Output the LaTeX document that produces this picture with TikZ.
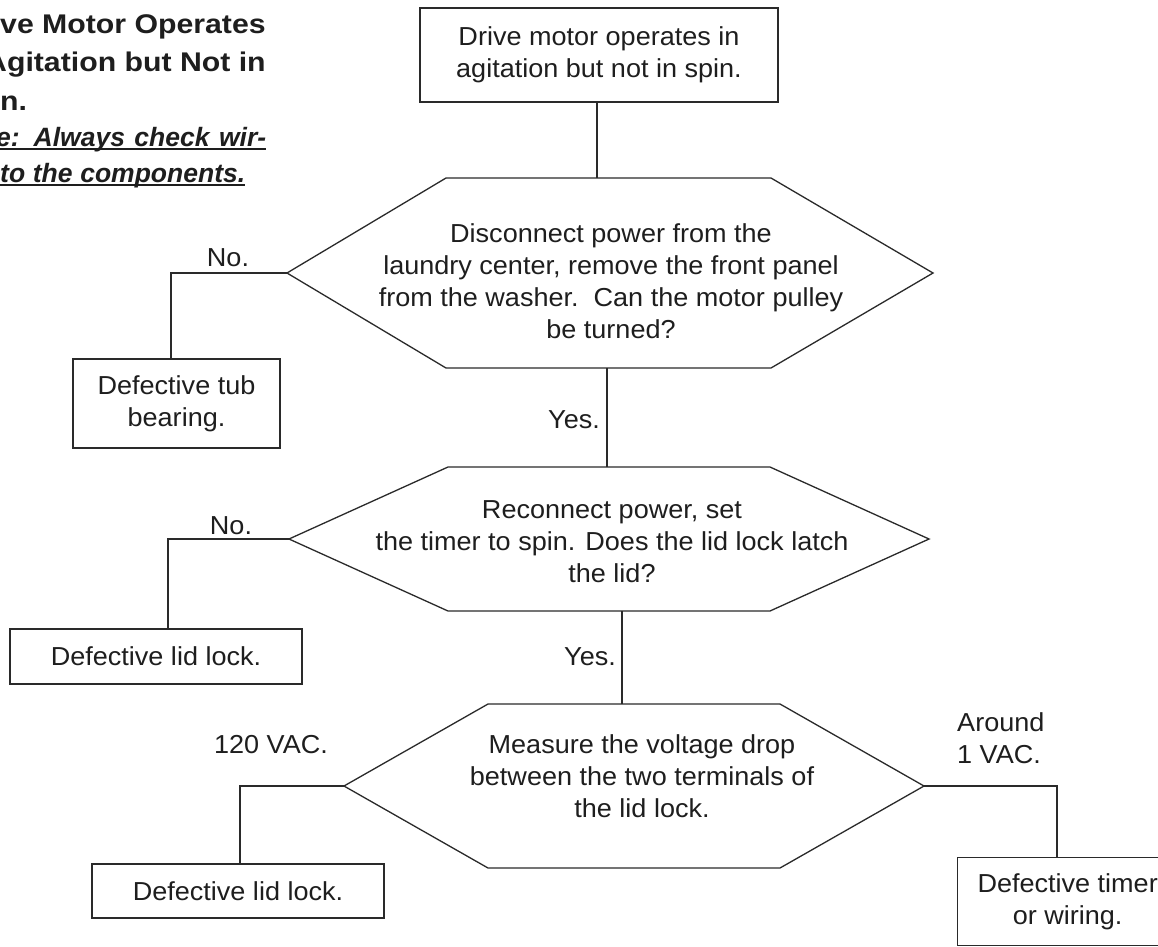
\documentclass[tikz,border=0pt]{standalone}
\usepackage{fontspec}
\setmainfont{Liberation Sans}[FakeStretch=1.04]
\newfontfamily\titlefont{Liberation Sans}[FakeStretch=1.12]
\newfontfamily\notefont{Liberation Sans}
\definecolor{ink}{HTML}{1E1E1E}
\definecolor{linec}{HTML}{2A2A2A}
\newcommand\bodysize{\fontsize{26}{32}\selectfont}
\newcommand\titlesize{\titlefont\bfseries\fontsize{27}{37}\selectfont}
\newcommand\notesize{\notefont\bfseries\itshape\fontsize{26.5}{36}\selectfont}
\tikzset{
  every node/.style={text=ink},
  rbox/.style={draw=linec, line width=1.3pt, rectangle, inner sep=0pt, align=center, font=\bodysize},
  lbl/.style={inner sep=0pt, align=center, font=\bodysize},
  ttl/.style={inner sep=0pt, font=\titlesize, anchor=base west},
  note/.style={inner sep=0pt, font=\notesize, anchor=base west},
  conn/.style={draw=linec, line width=1.3pt},
  hexa/.style={draw=linec, line width=1.3pt, line join=miter},
  uline/.style={draw=ink, line width=2pt},
}
\begin{document}
\begin{tikzpicture}[x=1pt,y=-1pt]
\useasboundingbox (0,0) rectangle (1158,946);
\clip (0,0) rectangle (1158,946);
\fill[white] (0,0) rectangle (1158,946);

% title (cut at the left edge)
\node[ttl] (t1) at (0,33) {ve Motor Operates};
\node[ttl] (t2) at (-15,71) {Agitation but Not in};
\node[ttl] (t3) at (0,110) {n.};
\node[note] (t4) at (-4,146) {\makebox[270pt][s]{e: Always check wir-}};
\node[note] (t5) at (0,182) {\makebox[245pt][s]{to the components.}};
\draw[uline] ([yshift=-3pt]t4.base west) -- ([yshift=-3pt]t4.base east);
\draw[uline] ([yshift=-3pt]t5.base west) -- ([yshift=-3pt]t5.base east);

% top box
\node[rbox, minimum width=358pt, minimum height=94pt] (top) at (599,55)
  {Drive motor operates in\\agitation but not in spin.};

% hexagon 1
\coordinate (h1L) at (287,273);
\coordinate (h1TL) at (446,178);
\coordinate (h1TR) at (771,178);
\coordinate (h1R) at (933,273);
\coordinate (h1BR) at (771,368);
\coordinate (h1BL) at (446,368);
\draw[hexa] (h1L) -- (h1TL) -- (h1TR) -- (h1R) -- (h1BR) -- (h1BL) -- cycle;
\node[lbl] (q1) at (611,281) {Disconnect power from the\\laundry center, remove the front panel\\from the washer.\ \ Can the motor pulley\\be turned?};

% hexagon 2
\coordinate (h2L) at (289,539);
\coordinate (h2TL) at (448,467);
\coordinate (h2TR) at (770,467);
\coordinate (h2R) at (929,539);
\coordinate (h2BR) at (770,611);
\coordinate (h2BL) at (448,611);
\draw[hexa] (h2L) -- (h2TL) -- (h2TR) -- (h2R) -- (h2BR) -- (h2BL) -- cycle;
\node[lbl] (q2) at (612,542) {Reconnect power, set\\the timer to spin. Does the lid lock latch\\the lid?};

% hexagon 3
\coordinate (h3L) at (344,786);
\coordinate (h3TL) at (488,704);
\coordinate (h3TR) at (780,704);
\coordinate (h3R) at (924,786);
\coordinate (h3BR) at (780,868);
\coordinate (h3BL) at (488,868);
\draw[hexa] (h3L) -- (h3TL) -- (h3TR) -- (h3R) -- (h3BR) -- (h3BL) -- cycle;
\node[lbl] (q3) at (642,776) {Measure the voltage drop\\between the two terminals of\\the lid lock.};

% result boxes
\node[rbox, minimum width=207pt, minimum height=89pt] (r1) at (176.5,403.5) {Defective tub\\bearing.};
\node[rbox, minimum width=292pt, minimum height=55pt] (r2) at (156,656.5) {Defective lid lock.};
\node[rbox, minimum width=292pt, minimum height=54pt] (r3) at (238,891) {Defective lid lock.};
\node[rbox, minimum width=220pt, minimum height=88pt, anchor=north west] (r4) at (957,857) {Defective timer\\or wiring.};

% connectors
\coordinate (c0) at (597,102);
\draw[conn] (c0) -- (c0 |- h1TL);
\coordinate (c1) at (607,368);
\draw[conn] (c1) -- (c1 |- h2TL);
\coordinate (c2) at (622,611);
\draw[conn] (c2) -- (c2 |- h3TL);
\coordinate (k1) at (171,273);
\draw[conn] (h1L) -- (k1) -- (k1 |- r1.north);
\coordinate (k2) at (168,539);
\draw[conn] (h2L) -- (k2) -- (k2 |- r2.north);
\coordinate (k3) at (240,786);
\draw[conn] (h3L) -- (k3) -- (k3 |- r3.north);
\coordinate (k4) at (1057,786);
\draw[conn] (h3R) -- (k4) -- (k4 |- r4.north);

% branch labels
\node[lbl] (n1) at (228,258) {No.};
\node[lbl] (n2) at (231,526) {No.};
\node[lbl] (y1) at (574,420) {Yes.};
\node[lbl] (y2) at (590,657) {Yes.};
\node[lbl] (v1) at (271,745) {120 VAC.};
\node[lbl, align=left, anchor=north west] (v2) at (957,712) {Around\\1 VAC.};
\end{tikzpicture}
\end{document}
